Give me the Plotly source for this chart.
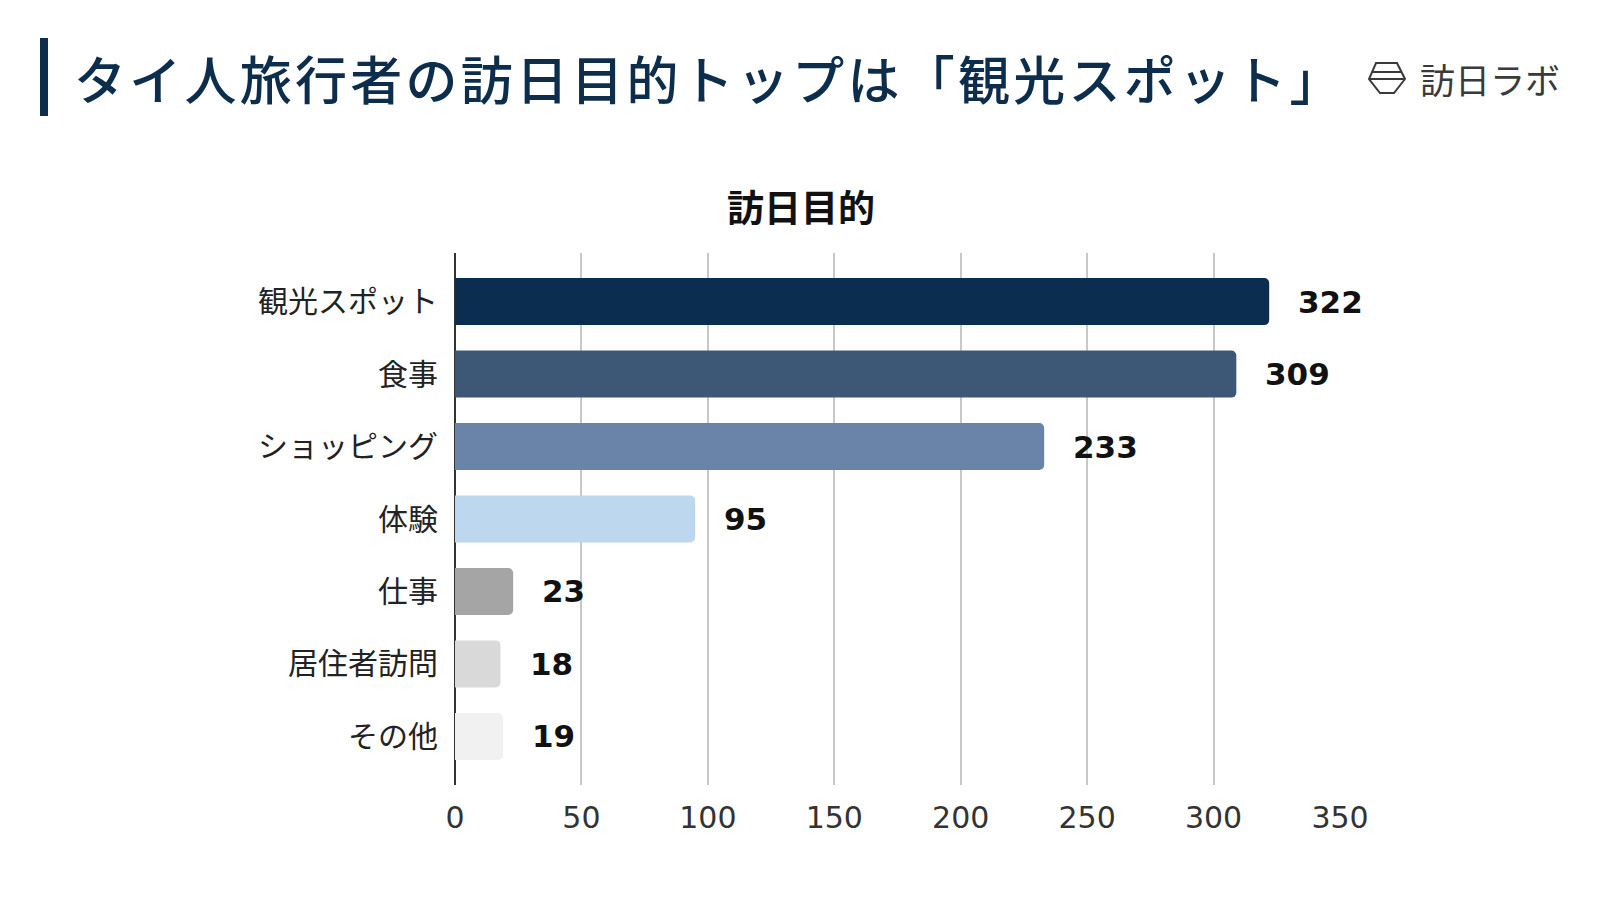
import plotly.graph_objects as go

categories = ["観光スポット", "食事", "ショッピング", "体験", "仕事", "居住者訪問", "その他"]
values = [322, 309, 233, 95, 23, 18, 19]
bar_colors = ["#0b2d4f", "#3d5777", "#6a83a8", "#bdd7ee", "#a5a5a5", "#d9d9d9", "#f1f1f1"]
x_ticks = [0, 50, 100, 150, 200, 250, 300, 350]
main_title = "タイ人旅行者の訪日目的トップは「観光スポット」"
chart_title = "訪日目的"
logo_text = "訪日ラボ"

OFF = 8  # page body margin offset
W, H = 1592, 892
PL, PR, PT, PB = 455, 1340, 253, 785  # plot area in page pixels


def px(x):
    return (x - PL) / (PR - PL)


def py(y):
    return (PB - y) / (PB - PT)


fig = go.Figure()
fig.add_trace(go.Bar(
    x=values, y=categories, orientation="h",
    marker=dict(color=bar_colors, line=dict(width=0)),
    width=0.65, hoverinfo="skip",
))

annotations = []
for c, v in zip(categories, values):
    annotations.append(dict(
        x=v, y=c, xref="x", yref="y", text=f"<b>{v}</b>", showarrow=False,
        xanchor="left", yanchor="middle", xshift=27,
        font=dict(family="DejaVu Sans", size=31, color="#111111"),
    ))

spaced_title = "\u200a".join(main_title)
annotations.append(dict(
    x=px(72), y=py(77), xref="paper", yref="paper", text=spaced_title, showarrow=False,
    xanchor="left", yanchor="middle",
    font=dict(family="Noto Sans CJK JP", size=52, color="#0d2d4d", weight=500),
))
annotations.append(dict(
    x=px(801), y=py(206), xref="paper", yref="paper", text=f"<b>{chart_title}</b>", showarrow=False,
    xanchor="center", yanchor="middle",
    font=dict(family="Noto Sans CJK JP", size=37, color="#111111"),
))
annotations.append(dict(
    x=px(1418), y=py(78), xref="paper", yref="paper", text=logo_text, showarrow=False,
    xanchor="left", yanchor="middle",
    font=dict(family="Noto Sans CJK JP", size=35, color="#3a3a3a"),
))

shapes = [dict(
    type="rect", xref="paper", yref="paper",
    x0=px(40), x1=px(48), y0=py(116), y1=py(38),
    fillcolor="#0d2d4d", line=dict(width=0), layer="above",
)]
hx = [1376, 1397, 1405, 1394, 1380, 1369]
hy = [63, 63, 79, 93, 93, 79]
path = "M " + " L ".join(f"{px(a)},{py(b)}" for a, b in zip(hx, hy)) + " Z"
shapes.append(dict(type="path", xref="paper", yref="paper", path=path,
                   line=dict(color="#3a3a3a", width=2), fillcolor="rgba(0,0,0,0)"))
shapes.append(dict(type="line", xref="paper", yref="paper",
                   x0=px(1373), x1=px(1401), y0=py(72), y1=py(72),
                   line=dict(color="#3a3a3a", width=2)))
shapes.append(dict(type="line", xref="paper", yref="paper",
                   x0=px(1369), x1=px(1405), y0=py(79), y1=py(79),
                   line=dict(color="#3a3a3a", width=2)))

fig.update_layout(
    width=W, height=H,
    margin=dict(l=PL - OFF, r=W - (PR - OFF), t=PT - OFF, b=H - (PB - OFF), pad=0),
    paper_bgcolor="white", plot_bgcolor="white",
    showlegend=False, barcornerradius=5,
    annotations=annotations, shapes=shapes,
    xaxis=dict(
        range=[0, 350], tickvals=x_ticks, ticktext=[str(t) for t in x_ticks],
        showgrid=True, gridcolor="#c8c8c8", gridwidth=2,
        zeroline=True, zerolinecolor="#333333", zerolinewidth=2,
        showline=False, ticks="", ticklabelstandoff=12,
        tickfont=dict(family="DejaVu Sans", size=30, color="#333333"),
        fixedrange=True,
    ),
    yaxis=dict(
        type="category", categoryorder="array", categoryarray=categories,
        range=[6.67, -0.67], showgrid=False, zeroline=False, showline=False,
        ticks="", ticklabelstandoff=16,
        tickfont=dict(family="Noto Sans CJK JP", size=30, color="#222222"),
        fixedrange=True,
    ),
)

fig.write_html("out.html")
